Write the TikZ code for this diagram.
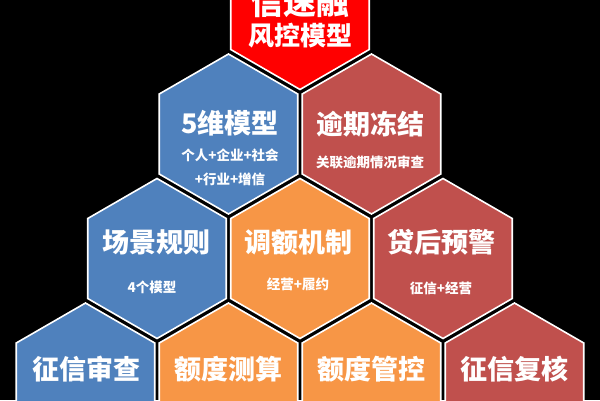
\documentclass[tikz,border=0pt]{standalone}
\usepackage{fontspec}
\usetikzlibrary{shapes.geometric}
\newfontfamily\cjk{Noto Sans CJK SC}
\definecolor{hexred}{HTML}{FF0000}
\definecolor{hexblue}{HTML}{4F81BD}
\definecolor{hexbrick}{HTML}{C0504D}
\definecolor{hexorange}{HTML}{F79646}
\begin{document}
\begin{tikzpicture}[x=1pt,y=-1pt,
  hexagon/.style={regular polygon, regular polygon sides=6, shape border rotate=30,
    minimum size=160pt, inner sep=0pt, draw=white, line width=1.6pt, line join=miter, fill=#1},
  big/.style={text=white, inner sep=0pt, font=\cjk\bfseries\fontsize{27}{30}\selectfont},
  title/.style={text=white, inner sep=0pt, font=\cjk\bfseries\fontsize{33}{36}\selectfont},
  small/.style={text=white, inner sep=0pt, font=\cjk\bfseries\fontsize{13.5}{16}\selectfont}]
\useasboundingbox (0,0) rectangle (600,400);
\clip (0,0) rectangle (600,400);
\fill[black] (0,0) rectangle (600,400);
% row 1
\node[hexagon=hexred] (h1) at (300,9.5) {};
% row 2
\node[hexagon=hexblue] (h21) at (228.5,134) {};
\node[hexagon=hexbrick] (h22) at (371.5,134) {};
% row 3
\node[hexagon=hexblue] (h31) at (157,258.5) {};
\node[hexagon=hexorange] (h32) at (300,258.5) {};
\node[hexagon=hexbrick] (h33) at (443,258.5) {};
% row 4
\node[hexagon=hexblue] (h41) at (85.5,383) {};
\node[hexagon=hexorange] (h42) at (228.5,383) {};
\node[hexagon=hexorange] (h43) at (371.5,383) {};
\node[hexagon=hexbrick] (h44) at (514.5,383) {};
% texts
\node[title] (t1a) at (300,2) {信速融};
\node[big, font=\cjk\bfseries\fontsize{26}{30}\selectfont] (t1b) at (300,36) {风控模型};
\node[big] (t21a) at (230,123) {5维模型};
\node[small] (t21b) at (230,155) {个人+企业+社会};
\node[small] (t21c) at (230,179) {+行业+增信};
\node[big] (t22a) at (370,124) {逾期冻结};
\node[small] (t22b) at (370,162) {关联逾期情况审查};
\node[big] (t31a) at (156,242) {场景规则};
\node[small] (t31b) at (152,287) {4个模型};
\node[big] (t32a) at (298,242) {调额机制};
\node[small] (t32b) at (298,284) {经营+履约};
\node[big] (t33a) at (441,242) {贷后预警};
\node[small] (t33b) at (441,288) {征信+经营};
\node[big] (t41a) at (86,369) {征信审查};
\node[big] (t42a) at (228,369) {额度测算};
\node[big] (t43a) at (371,369) {额度管控};
\node[big] (t44a) at (514,369) {征信复核};
\end{tikzpicture}
\end{document}
